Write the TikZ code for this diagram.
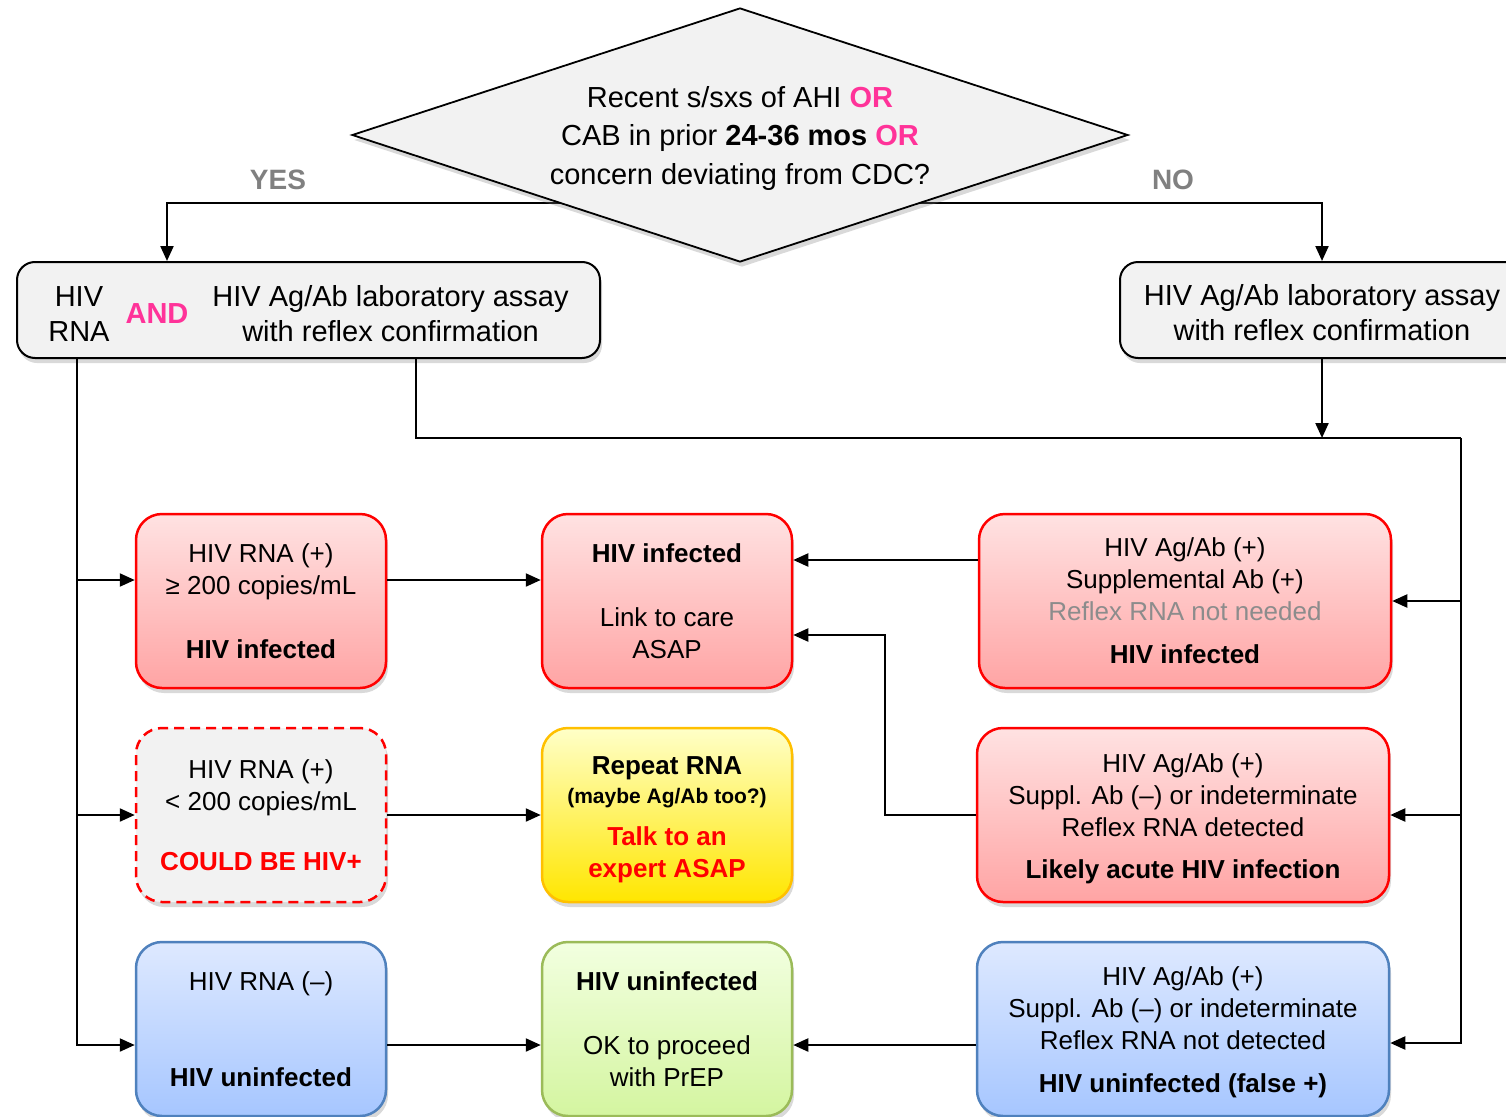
\documentclass[tikz,border=0pt]{standalone}
\usepackage{fontspec}
\setmainfont{Liberation Sans}
\usetikzlibrary{shapes.geometric,arrows.meta,shadows,backgrounds}
\definecolor{boxgray}{RGB}{242,242,242}
\definecolor{orpink}{RGB}{255,51,153}
\definecolor{labelgray}{RGB}{128,128,128}
\definecolor{notegray}{RGB}{140,140,140}
\definecolor{redtop}{RGB}{255,226,226}
\definecolor{redbot}{RGB}{255,164,164}
\definecolor{yeltop}{RGB}{255,255,200}
\definecolor{yelbot}{RGB}{255,230,0}
\definecolor{yelline}{RGB}{255,192,0}
\definecolor{bluetop}{RGB}{222,233,255}
\definecolor{bluebot}{RGB}{166,198,255}
\definecolor{blueline}{RGB}{79,129,189}
\definecolor{greentop}{RGB}{242,255,224}
\definecolor{greenbot}{RGB}{212,245,160}
\definecolor{greenline}{RGB}{155,187,89}
\tikzstyle{boxshadow} = [drop shadow={shadow xshift=2pt, shadow yshift=-5pt,
    opacity=0.3}]
\tikzstyle{decision} = [diamond, draw, line width=1.8pt, fill=boxgray,
    aspect=3.06, minimum width=776pt, minimum height=254pt, inner sep=0pt,
    align=center, font=\fontsize{29}{38.5}\selectfont, boxshadow]
\tikzstyle{testbox} = [rectangle, draw, line width=2pt, fill=boxgray,
    rounded corners=18pt, minimum height=96pt, align=center,
    font=\fontsize{29}{35}\selectfont, boxshadow]
\tikzstyle{block} = [rectangle, rounded corners=26pt, line width=2.5pt,
    minimum width=250pt, minimum height=174pt, align=center,
    font=\fontsize{26}{32}\selectfont, boxshadow]
\tikzstyle{widebox} = [minimum width=412pt]
\tikzstyle{posbox} = [block, draw=red, top color=redtop, bottom color=redbot]
\tikzstyle{unsurebox} = [block, draw=red, dash pattern=on 10pt off 6pt,
    fill=boxgray]
\tikzstyle{expertbox} = [block, draw=yelline, top color=yeltop,
    bottom color=yelbot]
\tikzstyle{negbox} = [block, draw=blueline, top color=bluetop,
    bottom color=bluebot]
\tikzstyle{prepbox} = [block, draw=greenline, top color=greentop,
    bottom color=greenbot]
\tikzstyle{yesno} = [text=labelgray, font=\fontsize{28}{34}\selectfont\bfseries]
\tikzstyle{line} = [draw, line width=2.2pt, -{Triangle[length=15pt,width=13pt]}]

\begin{document}
\begin{tikzpicture}[x=1pt, y=1pt, node distance=406pt]
  \useasboundingbox (0,0) rectangle (1506,-1116);
  \clip (0,0) rectangle (1506,-1116);
  \node [decision] (cab_check) at (740,-135)
    {\rule{0pt}{28pt}Recent s/sxs of AHI {\bfseries\color{orpink}OR}\\
     CAB in prior \textbf{24-36 mos} {\bfseries\color{orpink}OR}\\
     concern deviating from CDC?};
  \node [testbox, minimum width=583pt] (rna_agab) at (308.5,-310)
    {\rule{0pt}{56pt}\begin{tabular}{@{}c@{}}HIV\\RNA\end{tabular}\hspace{16pt}%
     {\bfseries\color{orpink}AND}\hspace{24pt}%
     \begin{tabular}{@{}c@{}}HIV Ag/Ab laboratory assay\\
       with reflex confirmation\end{tabular}};
  \node [testbox, minimum width=404pt, right of=rna_agab, node distance=1013.5pt]
    (agab_only) {\rule{0pt}{27pt}HIV Ag/Ab laboratory assay\\with reflex confirmation};
  \node [yesno] (yes_label) at (278,-180) {YES};
  \node [yesno] (no_label) at (1173,-180) {NO};
  % results of the combined test
  \node [posbox] (rna_high) at (261,-601)
    {HIV RNA (+)\\≥ 200 copies/mL\\[32pt]\textbf{HIV infected}};
  \node [unsurebox, below of=rna_high, node distance=214pt] (rna_low)
    {HIV RNA (+)\\< 200 copies/mL\\[28pt]{\bfseries\color{red}COULD BE HIV+}};
  \node [negbox, below of=rna_low, node distance=214pt] (rna_neg)
    {HIV RNA (–)\\[64pt]\textbf{HIV uninfected}};
  % what to do next
  \node [posbox, right of=rna_high] (link_care)
    {\textbf{HIV infected}\\[32pt]Link to care\\ASAP};
  \node [expertbox, right of=rna_low] (repeat_rna)
    {\rule{0pt}{27pt}\textbf{Repeat RNA}\\[-3pt]{\fontsize{21}{26}\selectfont\bfseries (maybe Ag/Ab too?)}\\[10pt]
     {\bfseries\color{red}Talk to an}\\{\bfseries\color{red}expert ASAP}};
  \node [prepbox, right of=rna_neg] (prep_ok)
    {\textbf{HIV uninfected}\\[32pt]OK to proceed\\with PrEP};
  % results of the Ag/Ab test
  \node [posbox, widebox, right of=link_care, node distance=518pt] (agab_pos)
    {HIV Ag/Ab (+)\\Supplemental Ab (+)\\{\color{notegray}Reflex RNA not needed}\\[11pt]
     \textbf{HIV infected}};
  \node [posbox, widebox, right of=repeat_rna, node distance=516pt] (agab_acute)
    {\rule{0pt}{27pt}HIV Ag/Ab (+)\\Suppl. Ab (–) or indeterminate\\Reflex RNA detected\\[10pt]
     \textbf{Likely acute HIV infection}};
  \node [negbox, widebox, right of=prep_ok, node distance=516pt] (agab_false)
    {\rule{0pt}{25pt}HIV Ag/Ab (+)\\Suppl. Ab (–) or indeterminate\\Reflex RNA not detected\\[11pt]
     \textbf{HIV uninfected (false +)}};
  \begin{scope}[on background layer]
    \coordinate (split) at (740,-203);
    \path [line] (split) -| ([xshift=-141.5pt]rna_agab.north);
    \path [line] (split) -| (agab_only);
  \end{scope}
  \coordinate (rail_l) at ([xshift=61pt]rna_agab.south west);
  \coordinate (rail_r) at (1461,-438);
  \path [line] (rail_l) |- ([yshift=21pt]rna_high.west);
  \path [line] (rail_l) |- (rna_low.west);
  \path [line] (rail_l) |- ([yshift=-16pt]rna_neg.west);
  \path [draw, line width=2.2pt] ([xshift=107.5pt]rna_agab.south) |- (rail_r);
  \path [line] (agab_only) -- (agab_only |- rail_r);
  \path [line] (rail_r) |- (agab_pos.east);
  \path [line] (rail_r) |- (agab_acute.east);
  \path [line] (rail_r) |- ([yshift=-14pt]agab_false.east);
  \path [line] ([yshift=21pt]rna_high.east) -- ([yshift=21pt]link_care.west);
  \path [line] ([yshift=41pt]agab_pos.west) -- ([yshift=41pt]link_care.east);
  \path [line] (agab_acute.west) -- ++(-91pt,0) |- ([yshift=-34pt]link_care.east);
  \path [line] (rna_low) -- (repeat_rna);
  \path [line] ([yshift=-16pt]rna_neg.east) -- ([yshift=-16pt]prep_ok.west);
  \path [line] ([yshift=-16pt]agab_false.west) -- ([yshift=-16pt]prep_ok.east);
\end{tikzpicture}
\end{document}
